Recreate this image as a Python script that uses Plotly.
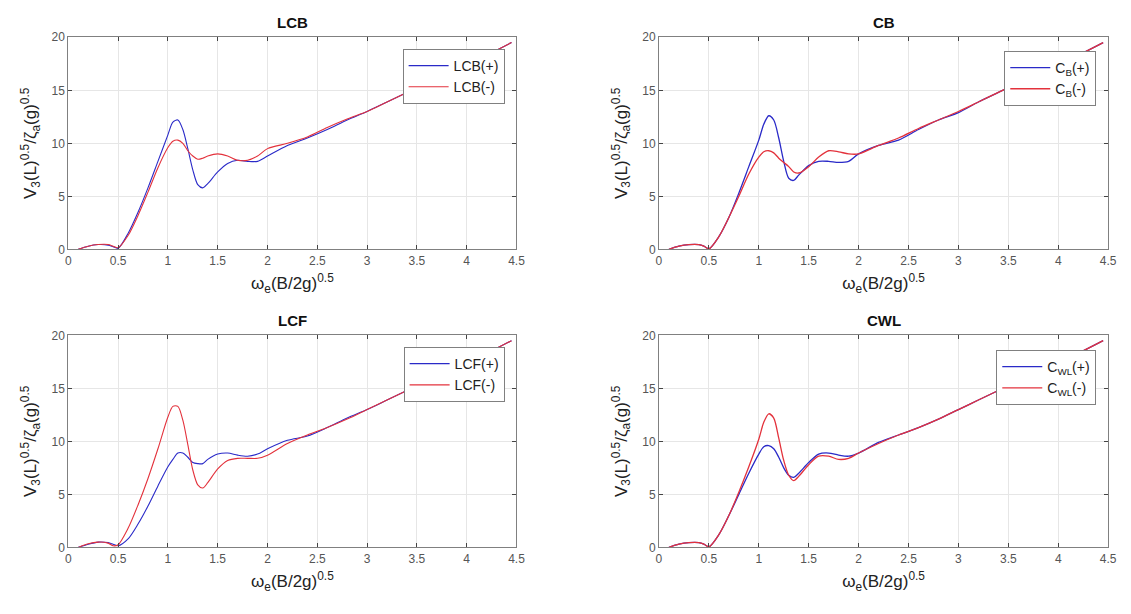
import plotly.graph_objects as go

# ---------------- data ----------------
x = [0.1, 0.2, 0.3, 0.4, 0.45, 0.5, 0.6, 0.7, 0.8, 0.9, 1.0, 1.05, 1.1, 1.15, 1.2, 1.25,
     1.3, 1.35, 1.4, 1.5, 1.6, 1.7, 1.8, 1.9, 2.0, 2.2, 2.4, 2.6, 2.8, 3.0, 3.2, 3.4,
     3.6, 3.8, 4.0, 4.2, 4.45]

lcb_plus = [0, 0.3, 0.45, 0.4, 0.25, 0.1, 1.5, 3.5, 5.8, 8.3, 10.8, 12.0, 12.2, 11.3, 9.5, 7.5,
            6.1, 5.8, 6.2, 7.3, 8.1, 8.4, 8.3, 8.3, 8.8, 9.8, 10.5, 11.3, 12.2, 13.0, 13.9, 14.8,
            15.7, 16.5, 17.4, 18.3, 19.5]
lcb_minus = [0, 0.3, 0.45, 0.45, 0.3, 0.15, 1.3, 3.2, 5.4, 7.7, 9.6, 10.2, 10.3, 10.0, 9.3, 8.8,
             8.5, 8.6, 8.8, 9.0, 8.8, 8.4, 8.4, 8.8, 9.5, 10.0, 10.6, 11.5, 12.3, 13.0, 13.9, 14.8,
             15.7, 16.5, 17.4, 18.3, 19.5]

cb_plus = [0, 0.3, 0.45, 0.45, 0.3, 0.05, 1.2, 3.0, 5.3, 7.8, 10.3, 11.8, 12.6, 12.2, 10.5, 8.3,
           6.7, 6.5, 7.0, 7.9, 8.3, 8.3, 8.2, 8.3, 9.0, 9.8, 10.3, 11.3, 12.2, 12.9, 13.9, 14.8,
           15.7, 16.5, 17.4, 18.3, 19.5]
cb_minus = [0, 0.3, 0.45, 0.45, 0.3, 0.05, 1.2, 3.0, 5.0, 7.1, 8.7, 9.2, 9.3, 9.1, 8.6, 8.2,
            7.8, 7.3, 7.2, 7.8, 8.7, 9.3, 9.2, 9.0, 9.0, 9.8, 10.5, 11.4, 12.2, 13.0, 13.9, 14.8,
            15.7, 16.5, 17.4, 18.3, 19.5]

lcf_plus = [0, 0.3, 0.5, 0.45, 0.3, 0.15, 0.8, 2.2, 3.9, 5.8, 7.6, 8.3, 8.9, 8.9, 8.5, 8.0,
            7.9, 7.9, 8.3, 8.8, 8.9, 8.7, 8.6, 8.8, 9.3, 10.1, 10.5, 11.3, 12.2, 13.0, 13.9, 14.8,
            15.7, 16.5, 17.4, 18.3, 19.5]
lcf_minus = [0, 0.35, 0.5, 0.4, 0.15, 0.25, 1.8, 4.0, 6.5, 9.3, 12.3, 13.3, 13.3, 12.0, 9.7, 7.3,
             5.9, 5.6, 6.1, 7.4, 8.2, 8.4, 8.4, 8.4, 8.7, 9.8, 10.6, 11.3, 12.1, 13.0, 13.9, 14.8,
             15.7, 16.5, 17.4, 18.3, 19.5]

cwl_plus = [0, 0.3, 0.45, 0.45, 0.3, 0.05, 1.2, 3.0, 5.0, 7.0, 8.8, 9.5, 9.6, 9.3, 8.5, 7.5,
            6.8, 6.6, 7.0, 8.0, 8.8, 8.9, 8.7, 8.6, 8.9, 9.9, 10.6, 11.3, 12.1, 13.0, 13.9, 14.8,
            15.7, 16.5, 17.4, 18.3, 19.5]
cwl_minus = [0, 0.3, 0.45, 0.45, 0.3, 0.05, 1.2, 3.0, 5.2, 7.6, 10.2, 11.8, 12.6, 12.2, 10.3, 8.2,
             6.8, 6.3, 6.7, 7.8, 8.6, 8.6, 8.3, 8.4, 8.9, 9.8, 10.6, 11.3, 12.1, 13.0, 13.9, 14.8,
             15.7, 16.5, 17.4, 18.3, 19.5]

titles = ["LCB", "CB", "LCF", "CWL"]
names_plus = ["LCB(+)", "C<sub>B</sub>(+)", "LCF(+)", "C<sub>WL</sub>(+)"]
names_minus = ["LCB(-)", "C<sub>B</sub>(-)", "LCF(-)", "C<sub>WL</sub>(-)"]
series_plus = [lcb_plus, cb_plus, lcf_plus, cwl_plus]
series_minus = [lcb_minus, cb_minus, lcf_minus, cwl_minus]

x_ticks = [0, 0.5, 1, 1.5, 2, 2.5, 3, 3.5, 4, 4.5]
x_ticktext = ["0", "0.5", "1", "1.5", "2", "2.5", "3", "3.5", "4", "4.5"]
y_ticks = [0, 5, 10, 15, 20]

# ---------------- layout ----------------
W, H = 1131, 614
FONT = "Liberation Sans, Arial, sans-serif"
BLUE = "#2a2ac8"
RED = "#e3323c"

# pixel boxes (left, right, top, bottom)
boxes = [(66, 519, 31, 248), (663, 1117, 31, 248), (66, 519, 336, 553), (663, 1117, 336, 553)]
legend_pos = [(507, 43), (1105, 45), (507, 348), (1105, 351)]

fig = go.Figure()
layout = dict(width=W, height=H, margin=dict(l=0, r=0, t=0, b=0),
              paper_bgcolor="white", plot_bgcolor="white", font=dict(family=FONT),
              annotations=[])

for i in range(4):
    ax = "" if i == 0 else str(i + 1)
    lg = "legend" if i == 0 else "legend" + str(i + 1)
    lft, rgt, top, bot = boxes[i]
    width_line = 1.1 if i in (0, 2) else 1.3
    fig.add_trace(go.Scatter(x=x, y=series_plus[i], mode="lines", name=names_plus[i],
                             line=dict(color=BLUE, width=width_line, shape="spline", smoothing=0.8),
                             xaxis="x" + ax, yaxis="y" + ax, legend=lg))
    fig.add_trace(go.Scatter(x=x, y=series_minus[i], mode="lines", name=names_minus[i],
                             line=dict(color=RED, width=width_line, shape="spline", smoothing=0.8),
                             xaxis="x" + ax, yaxis="y" + ax, legend=lg))
    common = dict(showgrid=True, gridcolor="#e6e6e6", gridwidth=1,
                  showline=True, linecolor="#808080", linewidth=1, mirror="allticks",
                  ticks="inside", ticklen=4, tickcolor="#444", zeroline=False,
                  tickfont=dict(size=12, color="#555", family=FONT))
    layout["xaxis" + ax] = dict(common, domain=[lft / W, rgt / W], range=[0, 4.5],
                                tickvals=x_ticks, ticktext=x_ticktext,
                                anchor="y" + ax,
                                title=dict(text="ω<sub>e</sub>(B/2g)<sup>0.5</sup>",
                                           font=dict(size=17, color="#222"), standoff=10))
    layout["yaxis" + ax] = dict(common, domain=[1 - bot / H, 1 - top / H], range=[0, 20],
                                tickvals=y_ticks, anchor="x" + ax,
                                title=dict(text="V<sub>3</sub>(L)<sup>0.5</sup>/ζ<sub>a</sub>(g)<sup>0.5</sup>",
                                           font=dict(size=17, color="#222"), standoff=10))
    lx, ly = legend_pos[i]
    layout[lg] = dict(x=lx / W, y=1 - ly / H, xanchor="right", yanchor="top",
                      xref="paper", yref="paper",
                      bgcolor="white", bordercolor="#808080", borderwidth=1,
                      font=dict(size=14, color="#222", family=FONT),
                      tracegroupgap=0, itemwidth=40)
    layout["annotations"].append(dict(text="<b>" + titles[i] + "</b>", x=(lft + rgt) / 2 / W,
                                      y=1 - (top - 15) / H, xref="paper", yref="paper",
                                      showarrow=False, font=dict(size=15, color="#111", family=FONT),
                                      xanchor="center", yanchor="middle"))

fig.update_layout(**layout)
fig.write_html("out.html")
